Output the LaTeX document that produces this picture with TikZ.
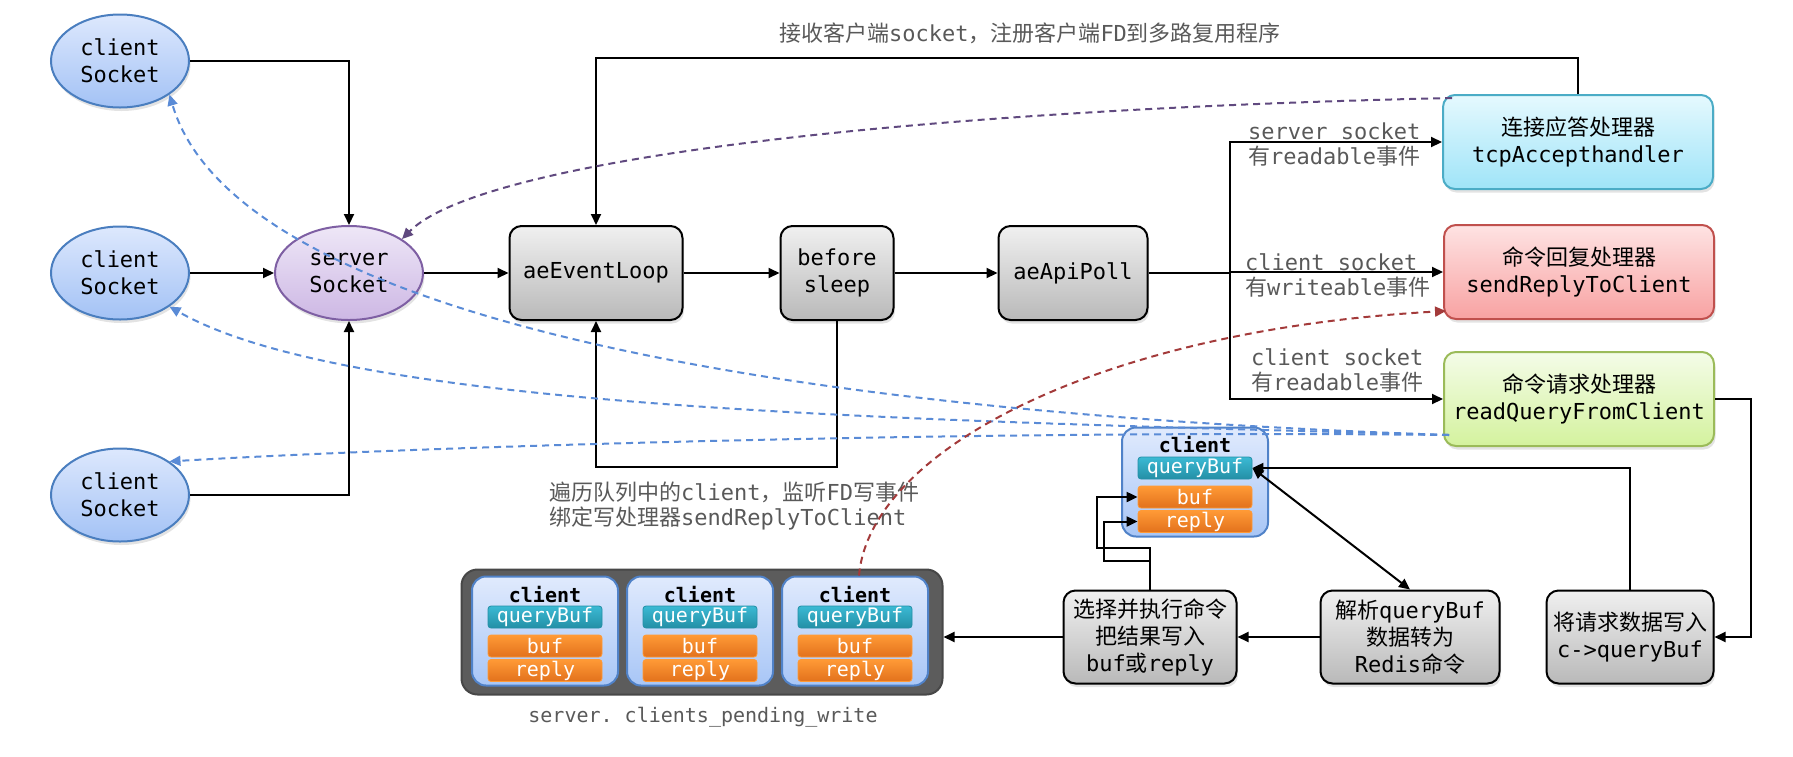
\documentclass[tikz,border=0pt]{standalone}
\usepackage{fontspec}
\setmonofont{DejaVu Sans Mono}
\newfontfamily\cjk{Noto Sans CJK SC}
\usetikzlibrary{arrows.meta,positioning,calc,shapes.geometric,shadows}
\newcommand{\zh}[1]{{\cjk #1}}
\definecolor{sockline}{HTML}{4A7EBF}
\definecolor{socktop}{HTML}{DDE8FD}
\definecolor{sockbot}{HTML}{A3C2F5}
\definecolor{srvline}{HTML}{7E5FA3}
\definecolor{srvtop}{HTML}{EEE7F7}
\definecolor{srvbot}{HTML}{CDB7E4}
\definecolor{boxtop}{HTML}{F0F0F0}
\definecolor{boxbot}{HTML}{B9B9B9}
\definecolor{accline}{HTML}{4BACC6}
\definecolor{acctop}{HTML}{E5F9FE}
\definecolor{accbot}{HTML}{9FE4F8}
\definecolor{repline}{HTML}{C0504D}
\definecolor{reptop}{HTML}{FEE3E3}
\definecolor{repbot}{HTML}{F8A2A2}
\definecolor{reqline}{HTML}{9BBB59}
\definecolor{reqtop}{HTML}{F4FCE8}
\definecolor{reqbot}{HTML}{D4F29E}
\definecolor{clitop}{HTML}{E0EAFD}
\definecolor{clibot}{HTML}{A8C6F6}
\definecolor{cliline}{HTML}{5082C8}
\definecolor{qtop}{HTML}{3BBAD4}
\definecolor{qbot}{HTML}{248FA6}
\definecolor{otop}{HTML}{FF9A36}
\definecolor{obot}{HTML}{E2711C}
\definecolor{pendfill}{HTML}{5C5C5C}
\definecolor{pendline}{HTML}{474747}
\definecolor{notegray}{HTML}{595959}
\definecolor{bluedash}{HTML}{5A8BD6}
\definecolor{purpledash}{HTML}{60497F}
\definecolor{reddash}{HTML}{A33A3A}
\tikzset{
  nodebase/.style={font=\ttfamily\fontsize{22}{27}\selectfont, align=center, inner sep=0pt, line width=2pt},
  softshadow/.style={drop shadow={opacity=0.22, shadow xshift=1.5pt, shadow yshift=-3.5pt}},
  sock/.style={nodebase, ellipse, softshadow, draw=sockline, top color=socktop, bottom color=sockbot, minimum width=138pt, minimum height=93pt},
  srvsock/.style={sock, draw=srvline, top color=srvtop, bottom color=srvbot, minimum width=148pt, minimum height=94pt},
  box/.style={nodebase, rounded corners=12pt, softshadow, draw=black, top color=boxtop, bottom color=boxbot, minimum height=94pt},
  acceptbox/.style={box, draw=accline, top color=acctop, bottom color=accbot, minimum width=270pt},
  replybox/.style={box, draw=repline, top color=reptop, bottom color=repbot, minimum width=270pt},
  readbox/.style={box, draw=reqline, top color=reqtop, bottom color=reqbot, minimum width=270pt},
  clientbox/.style={rounded corners=14pt, line width=2pt, draw=cliline, top color=clitop, bottom color=clibot, minimum width=146pt, minimum height=109pt},
  clienttitle/.style={font=\ttfamily\bfseries\fontsize{20}{22}\selectfont, inner sep=0pt},
  qbar/.style={rounded corners=3pt, draw=qbot, line width=0.8pt, top color=qtop, bottom color=qbot, minimum width=114pt, minimum height=22pt, inner sep=0pt, text=white, font=\ttfamily\fontsize{20}{22}\selectfont},
  obar/.style={qbar, draw=otop, top color=otop, bottom color=obot},
  pendbox/.style={rounded corners=16pt, fill=pendfill, draw=pendline, line width=2pt, minimum width=481pt, minimum height=125pt},
  note/.style={font=\ttfamily\fontsize{22}{25}\selectfont, text=notegray, align=left, inner sep=0pt},
  arrow/.style={-{Triangle[length=11pt,width=10pt]}, line width=2pt, draw=black},
  link/.style={line width=2pt, draw=black},
  dasharrow/.style={-{Triangle[length=11pt,width=10pt]}, line width=2pt, dash pattern=on 7pt off 5pt}
}
\newcommand{\clientcard}[2]{%
  \node[clientbox] (#1) at (#2) {};
  \node[clienttitle] (#1-t) at ($(#1)+(0,-37)$) {client};
  \node[qbar] (#1-q) at ($(#1)+(0,-14)$) {queryBuf};
  \node[obar] (#1-b) at ($(#1)+(0,15)$) {buf};
  \node[obar] (#1-r) at ($(#1)+(0,39.5)$) {reply};
}

\begin{document}
\begin{tikzpicture}[x=1pt, y=-1pt]
  \useasboundingbox (0,0) rectangle (1793,756);
  % sockets
  \node[sock] (cs1) at (120,61) {client\\Socket};
  \node[sock] (cs2) at (120,273) {client\\Socket};
  \node[sock] (cs3) at (120,495) {client\\Socket};
  \node[srvsock] (srv) at (349,273) {server\\Socket};
  % event loop
  \node[box, minimum width=173pt] (loop) at (596,273) {aeEventLoop};
  \node[box, minimum width=113pt] (bsleep) at (837,273) {before\\sleep};
  \node[box, minimum width=149pt] (poll) at (1073,273) {aeApiPoll};
  \coordinate (trunk) at (1230,273);
  % handlers
  \node[acceptbox] (accept) at (1578,142) {\zh{连接应答处理器}\\tcpAccepthandler};
  \node[replybox] (sendrep) at (1579,272) {\zh{命令回复处理器}\\sendReplyToClient};
  \node[readbox] (readq) at (1579,399) {\zh{命令请求处理器}\\readQueryFromClient};
  % bottom row
  \node[box, minimum width=173pt, minimum height=93pt] (exec) at (1150,637) {\zh{选择并执行命令}\\\zh{把结果写入}\\buf\zh{或}reply};
  \node[box, minimum width=179pt, minimum height=93pt] (parse) at (1410,637) {\zh{解析}queryBuf\\\zh{数据转为}\\Redis\zh{命令}};
  \node[box, minimum width=167pt, minimum height=93pt] (wq) at (1630,637) {\zh{将请求数据写入}\\c->queryBuf};
  % clients
  \clientcard{cli}{1195,482}
  \node[pendbox] (pend) at (702,632) {};
  \clientcard{pc1}{545,631}
  \clientcard{pc2}{700,631}
  \clientcard{pc3}{855,631}
  % labels
  \node[note, align=center] (lbltop) at (1030,33) {\zh{接收客户端}socket\zh{，注册客户端}FD\zh{到多路复用程序}};
  \node[note, anchor=west] (lblacc) at (1248,145) {server socket\\\zh{有}readable\zh{事件}};
  \node[note, anchor=west] (lblrep) at (1245,275) {client socket\\\zh{有}writeable\zh{事件}};
  \node[note, anchor=west] (lblreq) at (1251,370) {client socket\\\zh{有}readable\zh{事件}};
  \node[note, anchor=west] (lblloop) at (549,506) {\zh{遍历队列中的}client\zh{，监听}FD\zh{写事件}\\\zh{绑定写处理器}sendReplyToClient};
  \node[note, align=center, font=\ttfamily\fontsize{20}{24}\selectfont] (lblpend) at (703,717) {server. clients\_pending\_write};
  % connections
  \draw[arrow] (cs1.east) -| (srv.north);
  \draw[arrow] (cs2.east) -- (srv.west);
  \draw[arrow] (cs3.east) -| (srv.south);
  \draw[arrow] (srv.east) -- (loop.west);
  \draw[arrow] (loop.east) -- (bsleep.west);
  \draw[arrow] (bsleep.east) -- (poll.west);
  \draw[link] (poll.east) -- (trunk);
  \draw[arrow] (trunk) |- (accept.west);
  \draw[arrow] (trunk) |- (sendrep.west);
  \draw[arrow] (trunk) |- (readq.west);
  \draw[arrow] (accept.north) -- ++(0,-36) -| (loop.north);
  \draw[arrow] (bsleep.south) -- ++(0,146) -| (loop.south);
  \draw[arrow] (readq.east) -- ++(36,0) |- (wq.east);
  \draw[arrow] (wq.north) |- (cli-q.east);
  \draw[link, {Triangle[length=11pt,width=10pt]}-{Triangle[length=11pt,width=10pt]}] (cli-q.east) -- (parse.north);
  \draw[arrow] (parse.west) -- (exec.east);
  \draw[arrow] (exec.north) |- (1097,548) |- (cli-b.west);
  \draw[arrow] (exec.north) |- (1104,561) |- (cli-r.west);
  \draw[arrow] (exec.west) -- (exec.west -| pend.east);
  % dashed callbacks
  \coordinate (rqfoot) at ([shift={(6,-12)}]readq.south west);
  \draw[dasharrow, draw=bluedash] (rqfoot) .. controls (700,410) and (230,300) .. (cs1.south east);
  \draw[dasharrow, draw=bluedash] (rqfoot) .. controls (900,420) and (350,410) .. (cs2.south east);
  \draw[dasharrow, draw=bluedash] (rqfoot) .. controls (1000,430) and (450,445) .. (cs3.north east);
  \draw[dasharrow, draw=purpledash] ([shift={(10,4)}]accept.north west) .. controls (900,110) and (480,160) .. (srv.north east);
  \draw[dasharrow, draw=reddash] ([xshift=4pt]pc3.north) .. controls (870,450) and (1100,330) .. ([shift={(3,-9)}]sendrep.south west);
\end{tikzpicture}
\end{document}
